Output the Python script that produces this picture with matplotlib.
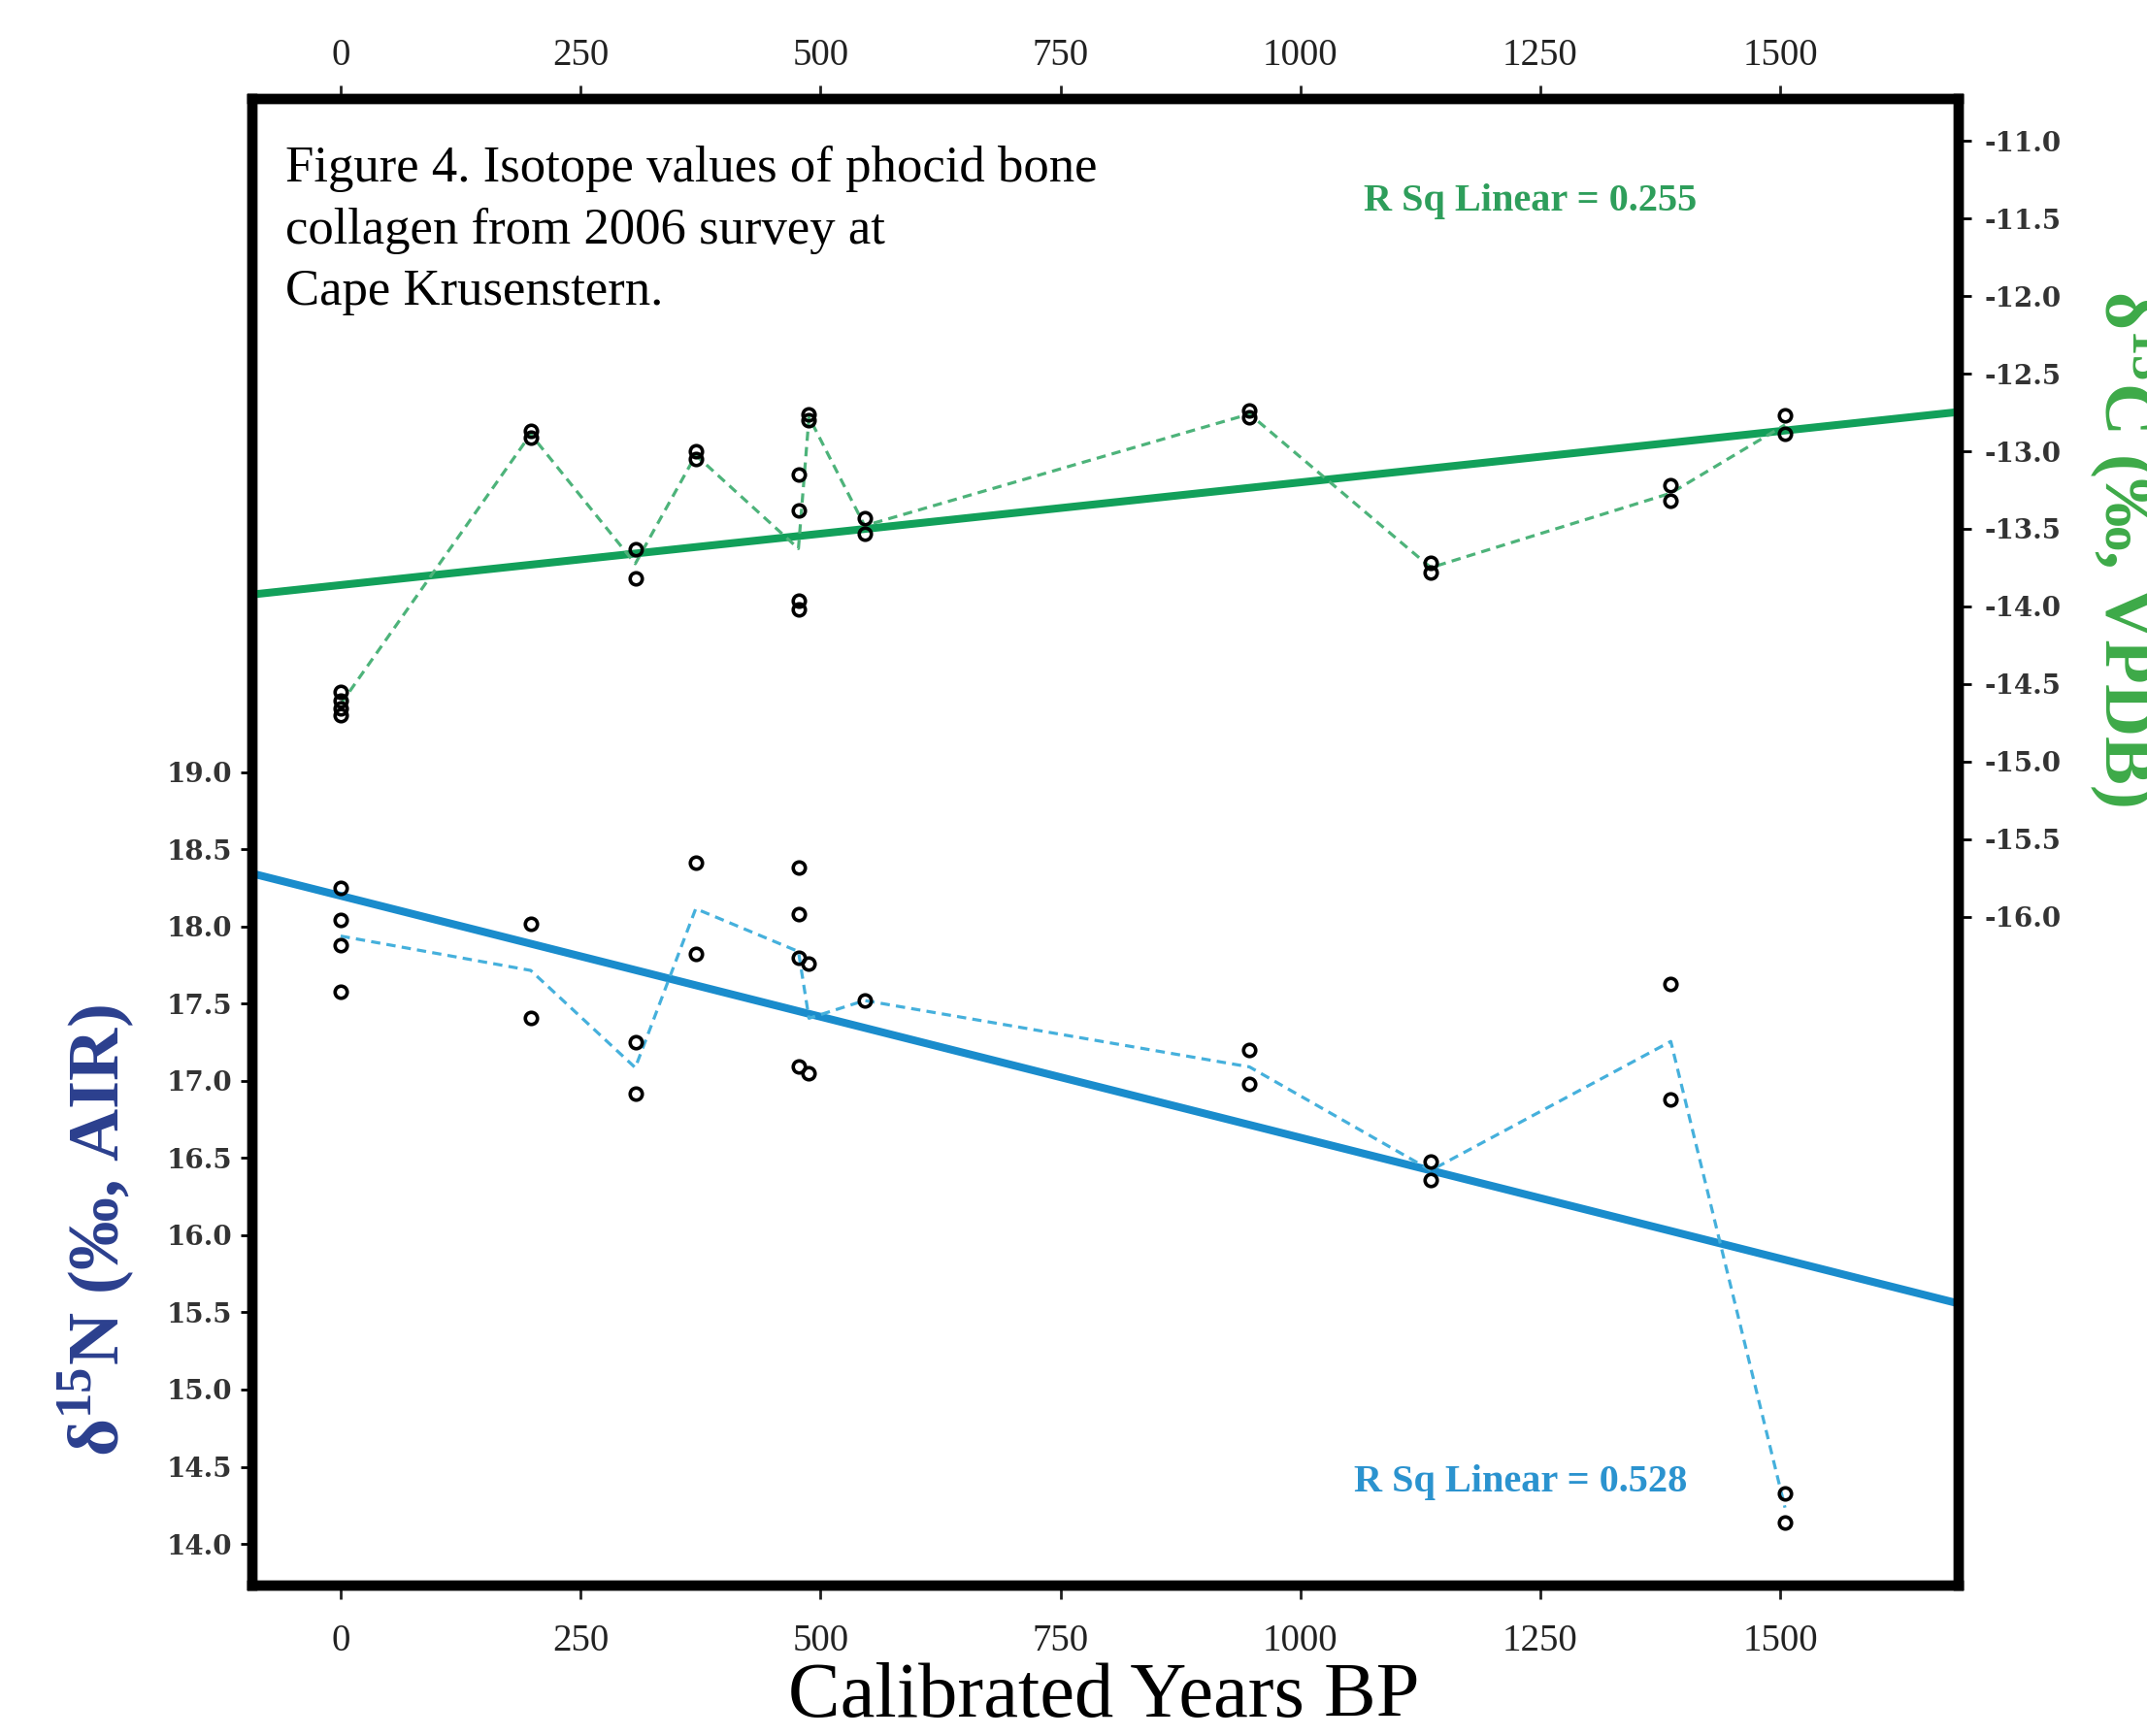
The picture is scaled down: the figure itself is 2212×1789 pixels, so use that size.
import numpy as np
import pandas as pd
import matplotlib
matplotlib.use("Agg")
import matplotlib.pyplot as plt

plt.rcParams['font.family'] = ['Liberation Serif', 'DejaVu Serif']
plt.rcParams['mathtext.fontset'] = 'custom'
plt.rcParams['mathtext.rm'] = 'Liberation Serif'
plt.rcParams['mathtext.bf'] = 'Liberation Serif:bold'

# delta 15N values (left axis)
years_n = [0, 0, 0, 0, 198, 198, 307, 307, 370, 370, 477, 477, 477, 477,
           488, 488, 546, 947, 947, 1136, 1136, 1386, 1386, 1505, 1505]
d15n = [18.25, 18.04, 17.88, 17.58, 18.02, 17.41, 17.25, 16.92, 18.41, 17.82,
        18.38, 18.08, 17.80, 17.09, 17.76, 17.05, 17.52, 17.20, 16.98,
        16.48, 16.36, 17.63, 16.88, 14.33, 14.14]

# delta 13C values (right axis)
years_c = [0, 0, 0, 0, 198, 198, 307, 307, 370, 370, 477, 477, 477, 477,
           488, 488, 546, 546, 947, 947, 1136, 1136, 1386, 1386, 1505, 1505]
d13c = [-14.55, -14.61, -14.66, -14.70, -12.87, -12.91, -13.63, -13.82,
        -13.00, -13.05, -13.15, -13.38, -13.96, -14.02, -12.76, -12.80,
        -13.43, -13.53, -12.74, -12.78, -13.72, -13.78, -13.22, -13.32,
        -12.77, -12.89]

x_ticks = [0, 250, 500, 750, 1000, 1250, 1500]
n_ticks = [14.0, 14.5, 15.0, 15.5, 16.0, 16.5, 17.0, 17.5, 18.0, 18.5, 19.0]
c_ticks = [-16.0, -15.5, -15.0, -14.5, -14.0, -13.5, -13.0, -12.5, -12.0, -11.5, -11.0]

caption = "Figure 4. Isotope values of phocid bone\ncollagen from 2006 survey at\nCape Krusenstern."
rsq_c = "R Sq Linear = 0.255"
rsq_n = "R Sq Linear = 0.528"

df_n = pd.DataFrame({'year': years_n, 'val': d15n})
df_c = pd.DataFrame({'year': years_c, 'val': d13c})
mean_n = df_n.groupby('year')['val'].mean()
mean_c = df_c.groupby('year')['val'].mean()

W, H = 2212, 1789
fig = plt.figure(figsize=(W / 100, H / 100), dpi=100)
ax = fig.add_axes([260 / W, 1 - 1634 / H, (2018 - 260) / W, (1634 - 102) / H])
ax2 = ax.twinx()

xmin, xmax = -92, 1686
ax.set_xlim(xmin, xmax)
ax.set_ylim(13.73, 23.36)
ax2.set_ylim(-20.31, -10.73)

xs = np.array([xmin, xmax])

# d15N: fit, mean line, points
bn = np.polyfit(years_n, d15n, 1)
ax.plot(xs, np.polyval(bn, xs), color='#1a8ccc', lw=5.8, zorder=2)
ax.plot(mean_n.index, mean_n.values, color='#45b0dc', lw=2.3, ls=(0, (3, 2)), zorder=2)
ax.plot(years_n, d15n, 'o', mfc='none', mec='black', ms=9, mew=2.6, zorder=4)

# d13C: fit, mean line, points
bc = np.polyfit(years_c, d13c, 1)
ax2.plot(xs, np.polyval(bc, xs), color='#12a05a', lw=5.8, zorder=2)
ax2.plot(mean_c.index, mean_c.values, color='#4db37a', lw=2.3, ls=(0, (3, 2)), zorder=2)
ax2.plot(years_c, d13c, 'o', mfc='none', mec='black', ms=9, mew=2.6, zorder=4)

for a in (ax, ax2):
    for s in a.spines.values():
        s.set_linewidth(7.5)
        s.set_color('black')

# bottom x labels on ax, top x labels on the twin (own pad)
ax.set_xticks(x_ticks)
ax.tick_params(axis='x', top=False, labeltop=False, bottom=True, labelbottom=True,
               direction='out', length=10, width=2, pad=18, labelsize=28,
               colors='#222222')
ax2.xaxis.set_visible(True)
ax2.tick_params(axis='x', top=True, labeltop=True, bottom=False, labelbottom=False,
                direction='out', length=10, width=2, pad=9, labelsize=28,
                colors='#222222')

ax.set_yticks(n_ticks)
ax.set_yticklabels([f"{v:.1f}" for v in n_ticks], family='DejaVu Serif',
                   weight='bold', color='#333333')
ax.tick_params(axis='y', direction='out', length=9, width=2, pad=6, labelsize=20)

ax2.set_yticks(c_ticks)
ax2.set_yticklabels([f"{v:.1f}" for v in c_ticks], family='DejaVu Serif',
                    weight='bold', color='#333333')
ax2.tick_params(axis='y', direction='out', length=9, width=2, pad=10, labelsize=20)

ax.text(294 / W, 1 - 150 / H, caption, transform=fig.transFigure, fontsize=38,
        va='top', ha='left', linespacing=1.42)
ax.text(1577 / W, 1 - 207 / H, rsq_c, transform=fig.transFigure, fontsize=29,
        weight='bold', color='#2e9e5b', ha='center', va='center')
ax.text(1567 / W, 1 - 1528 / H, rsq_n, transform=fig.transFigure, fontsize=29,
        weight='bold', color='#2b93cf', ha='center', va='center')

fig.text(100 / W, 1 - 1268 / H, "δ$^{\\mathbf{15}}$N (‰, AIR)", rotation=90,
         fontsize=54, weight='bold', color='#2b3f8e', ha='center', va='center')
fig.text(2150 / W, 1 - 565 / H, "δ$^{\\mathbf{13}}$C (‰, VPDB)", rotation=270,
         fontsize=54, weight='bold', color='#3daa48', ha='left', va='center')
fig.text(1137 / W, 1 - 1750 / H, "Calibrated Years BP", fontsize=58,
         ha='center', va='center')

fig.savefig('out.png', dpi=100)
